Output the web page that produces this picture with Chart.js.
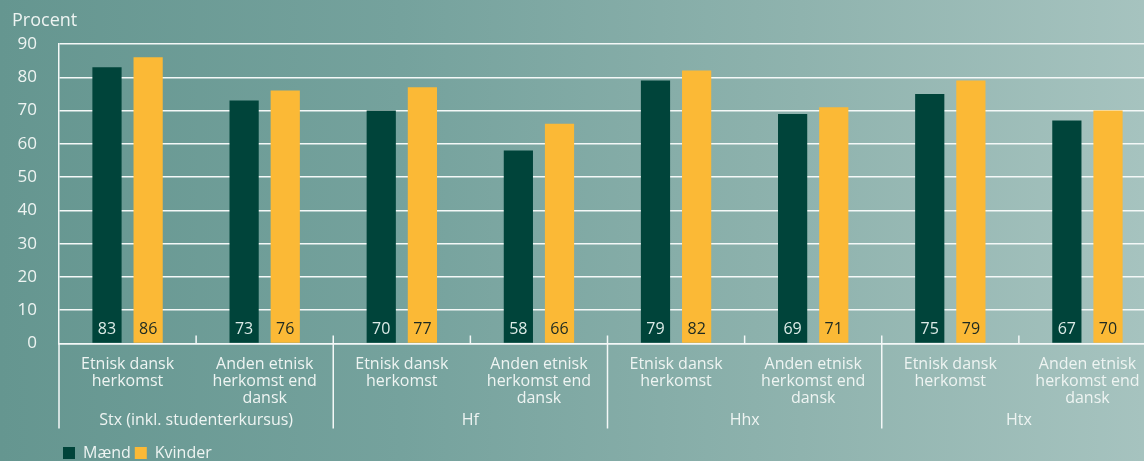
<!DOCTYPE html>
<html>
<head>
<meta charset="utf-8">
<script src="https://cdn.jsdelivr.net/npm/chart.js@4/dist/chart.umd.min.js"></script>
<style>
  html, body { margin: 0; padding: 0; width: 1144px; height: 461px; overflow: hidden; }
  body { background: linear-gradient(90deg, #659690 0%, #75a29d 35%, #8fb3ae 70%, #a6c3bf 100%); }
  #wrap { width: 1156px; height: 461px; position: relative; }
  canvas { display: block; }
</style>
</head>
<body>
<div id="wrap"><canvas id="c" width="1156" height="461"></canvas></div>
<script>
const categories = [
  ["Etnisk dansk", "herkomst"],
  ["Anden etnisk", "herkomst end", "dansk"],
  ["Etnisk dansk", "herkomst"],
  ["Anden etnisk", "herkomst end", "dansk"],
  ["Etnisk dansk", "herkomst"],
  ["Anden etnisk", "herkomst end", "dansk"],
  ["Etnisk dansk", "herkomst"],
  ["Anden etnisk", "herkomst end", "dansk"]
];
const groups = ["Stx (inkl. studenterkursus)", "Hf", "Hhx", "Htx"];
const maend = [83, 73, 70, 58, 79, 69, 75, 67];
const kvinder = [86, 76, 77, 66, 82, 71, 79, 70];
const yTicks = [0, 10, 20, 30, 40, 50, 60, 70, 80, 90];

const FONT = "'Open Sans', 'Noto Sans', sans-serif";
const TXT = '#eef4f2';
const LINE = '#f4f8f7';

const valueLabels = {
  id: 'valueLabels',
  afterDatasetsDraw(chart) {
    const ctx = chart.ctx;
    ctx.save();
    ctx.font = "16px " + FONT;
    ctx.textAlign = 'center';
    ctx.textBaseline = 'middle';
    chart.data.datasets.forEach((ds, di) => {
      const meta = chart.getDatasetMeta(di);
      meta.data.forEach((bar, i) => {
        ctx.fillStyle = di === 0 ? '#dcebe7' : '#1d2a22';
        ctx.fillText(String(ds.data[i]), bar.x, bar.base - 13);
      });
    });
    ctx.restore();
  }
};

const separators = {
  id: 'separators',
  afterDraw(chart) {
    const ctx = chart.ctx;
    const xs = chart.scales.x;
    const area = chart.chartArea;
    const bottom = area.bottom;
    const low = bottom + 85;
    ctx.save();
    ctx.strokeStyle = LINE;
    ctx.lineWidth = 1.5;
    ctx.beginPath();
    ctx.moveTo(area.left, bottom);
    ctx.lineTo(area.left, low);
    for (let i = 1; i < categories.length; i++) {
      const x = (xs.getPixelForValue(i - 1) + xs.getPixelForValue(i)) / 2;
      ctx.moveTo(x, bottom - 8);
      ctx.lineTo(x, i % 2 === 0 ? low : bottom);
    }
    ctx.stroke();
    ctx.restore();
  }
};

new Chart(document.getElementById('c'), {
  type: 'bar',
  data: {
    labels: categories,
    datasets: [
      { label: 'Mænd', data: maend, backgroundColor: '#00443a', borderWidth: 0 },
      { label: 'Kvinder', data: kvinder, backgroundColor: '#fbb936', borderWidth: 0 }
    ]
  },
  options: {
    responsive: false,
    animation: false,
    devicePixelRatio: 1,
    categoryPercentage: 0.6,
    barPercentage: 0.71,
    layout: { padding: { left: 12, right: 0, top: 0, bottom: -10 } },
    scales: {
      x: {
        position: 'bottom',
        grid: { display: false, drawTicks: false },
        border: { display: true, color: LINE, width: 1.5 },
        ticks: {
          color: TXT, font: { family: FONT, size: 16, lineHeight: 1.0625 },
          padding: 12, autoSkip: false, maxRotation: 0, minRotation: 0
        },
        afterFit(s) { s.height = 66; }
      },
      x2: {
        type: 'category',
        position: 'bottom',
        labels: groups,
        grid: { display: false, drawTicks: false },
        border: { display: false },
        ticks: {
          color: TXT, font: { family: FONT, size: 16, lineHeight: 1.0625 },
          padding: 2, autoSkip: false, maxRotation: 0, minRotation: 0
        },
        afterFit(s) { s.height = 31.5; }
      },
      y: {
        min: 0, max: 90,
        afterBuildTicks(s) { s.ticks = yTicks.map(v => ({ value: v })); },
        grid: { color: LINE, lineWidth: 1.5, drawTicks: false },
        border: { display: true, color: LINE, width: 1.5 },
        ticks: {
          color: TXT, font: { family: FONT, size: 17 }, padding: 22
        },
        afterFit(s) { s.width = 47; }
      }
    },
    plugins: {
      title: {
        display: true, text: 'Procent', align: 'start', color: TXT,
        font: { family: FONT, size: 18, weight: 'normal', lineHeight: 1.2 },
        padding: { top: 10, bottom: 12.4 }
      },
      legend: {
        position: 'bottom', align: 'start', fullSize: false,
        labels: {
          color: TXT, font: { family: FONT, size: 16 },
          boxWidth: 12, boxHeight: 12, padding: 4
        }
      },
      tooltip: { enabled: false }
    }
  },
  plugins: [valueLabels, separators]
});
</script>
</body>
</html>
